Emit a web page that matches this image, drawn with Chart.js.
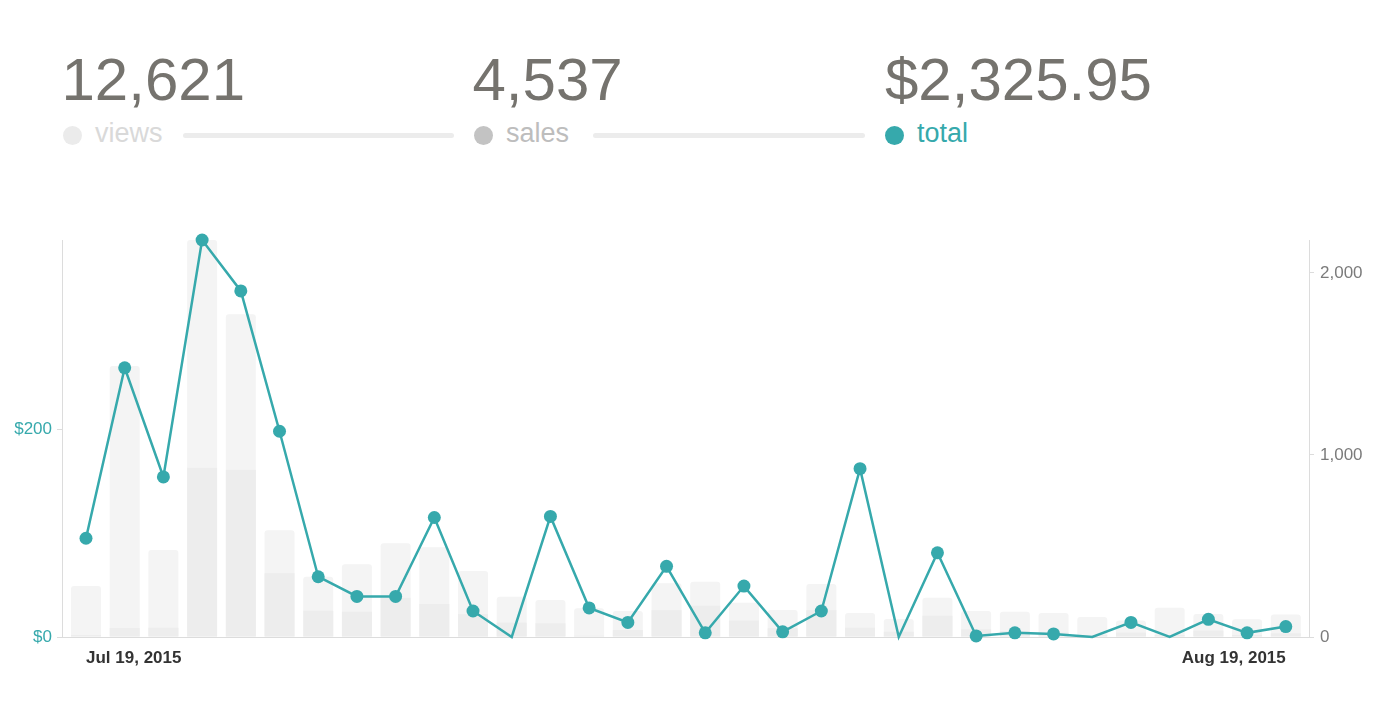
<!DOCTYPE html>
<html>
<head>
<meta charset="utf-8">
<script src="https://cdn.jsdelivr.net/npm/chart.js@4.4.0/dist/chart.umd.min.js"></script>
<style>
    html, body { margin: 0; padding: 0; background: #fff; }
    body {
        width: 1400px; height: 716px; position: relative; overflow: hidden;
        font-family: Arial, "Liberation Sans", Helvetica, sans-serif;
    }
    .stat { position: absolute; top: 0; width: 391px; height: 160px; }
    .stat .num { position: absolute; top: 50px; font-size: 60px; line-height: 60px; color: #75736e; white-space: nowrap; }
    .stat .dot { position: absolute; top: 126px; left: 0; width: 19px; height: 19px; border-radius: 50%; }
    .stat .lbl { position: absolute; top: 118px; left: 32px; font-size: 27px; line-height: 30px; }
    .stat .rule { position: absolute; top: 133px; right: 0; height: 5px; border-radius: 3px; background: #ececec; }
    #chartBox { position: absolute; left: 0; top: 200px; width: 1400px; height: 480px; }
</style>
</head>
<body>
    <div class="stat" style="left:63px">
        <div class="num" style="left:-1.5px">12,621</div>
        <span class="dot" style="background:#ebebeb"></span>
        <span class="lbl" style="color:#d9d9d9">views</span>
        <span class="rule" style="left:120px"></span>
    </div>
    <div class="stat" style="left:474px">
        <div class="num" style="left:-1.5px">4,537</div>
        <span class="dot" style="background:#c3c3c3"></span>
        <span class="lbl" style="color:#bdbdbd">sales</span>
        <span class="rule" style="left:119px"></span>
    </div>
    <div class="stat" style="left:885px">
        <div class="num" style="left:0px">$2,325.95</div>
        <span class="dot" style="background:#36a9ac"></span>
        <span class="lbl" style="color:#36a9ac">total</span>
    </div>

    <div id="chartBox"><canvas id="chart"></canvas></div>

<script>
// daily figures, Jul 19 - Aug 19 2015
const dates = [
    'Jul 19, 2015', 'Jul 20, 2015', 'Jul 21, 2015', 'Jul 22, 2015', 'Jul 23, 2015', 'Jul 24, 2015',
    'Jul 25, 2015', 'Jul 26, 2015', 'Jul 27, 2015', 'Jul 28, 2015', 'Jul 29, 2015', 'Jul 30, 2015',
    'Jul 31, 2015', 'Aug 1, 2015', 'Aug 2, 2015', 'Aug 3, 2015', 'Aug 4, 2015', 'Aug 5, 2015',
    'Aug 6, 2015', 'Aug 7, 2015', 'Aug 8, 2015', 'Aug 9, 2015', 'Aug 10, 2015', 'Aug 11, 2015',
    'Aug 12, 2015', 'Aug 13, 2015', 'Aug 14, 2015', 'Aug 15, 2015', 'Aug 16, 2015', 'Aug 17, 2015',
    'Aug 18, 2015', 'Aug 19, 2015'
];
const views = [280, 1489, 478, 2181, 1773, 586, 331, 400, 515, 493, 363, 221, 203, 158, 143, 295,
               304, 188, 148, 291, 132, 99, 216, 143, 139, 132, 110, 90, 161, 126, 97, 123];
const sales = [11, 49, 51, 930, 919, 350, 144, 139, 216, 181, 126, 79, 75, 7, 38, 148,
               172, 90, 48, 148, 51, 29, 117, 42, 33, 24, 11, 24, 11, 35, 11, 20];
const totals = [95, 259, 154, 382, 333, 198, 58, 39, 39, 115, 25, 0, 116, 28, 14, 68,
                4, 49, 5, 25, 162, 0, 81, 1, 4, 3, 0, 14, 0, 17, 4, 10];
const moneyStep = 200;
const countStep = 1000;

const teal = '#36a9ac';
const axisGrey = '#dcdcdc';
const family = 'Arial, "Liberation Sans", Helvetica, sans-serif';

// round ticks only, from 0 up to the data max (the max itself is not labelled)
const roundTicks = step => s => {
    const ticks = [];
    for (let v = 0; v <= s.max; v += step) ticks.push({ value: v });
    s.ticks = ticks;
};

new Chart(document.getElementById('chart'), {
    type: 'bar',
    data: {
        labels: dates.map((d, i) => i),
        datasets: [
            {
                type: 'line',
                label: 'total',
                data: totals,
                yAxisID: 'y',
                borderColor: teal,
                backgroundColor: teal,
                borderWidth: 2.5,
                pointBackgroundColor: teal,
                pointBorderWidth: 0,
                pointRadius: ctx => (ctx.raw === 0 ? 0 : 6.5),
                tension: 0,
                clip: false,
                order: 0
            },
            {
                label: 'sales',
                data: sales,
                yAxisID: 'y1',
                backgroundColor: '#ededed',
                grouped: false,
                barPercentage: 0.775,
                categoryPercentage: 1,
                order: 1
            },
            {
                label: 'views',
                data: views,
                yAxisID: 'y1',
                backgroundColor: '#f4f4f4',
                borderRadius: 3,
                borderSkipped: 'start',
                grouped: false,
                barPercentage: 0.775,
                categoryPercentage: 1,
                order: 2
            }
        ]
    },
    options: {
        responsive: true,
        maintainAspectRatio: false,
        animation: false,
        layout: { padding: { top: 40 } },
        plugins: {
            legend: { display: false },
            tooltip: { enabled: false }
        },
        scales: {
            x: {
                type: 'linear',
                offset: false,
                min: -0.62,
                max: 31.6,
                grid: { display: false, drawTicks: false, offset: false },
                border: { display: true, color: axisGrey },
                afterBuildTicks: s => { s.ticks = [{ value: 0 }, { value: dates.length - 1 }]; },
                afterFit: s => { s.height = 43; },
                ticks: {
                    autoSkip: false,
                    maxRotation: 0,
                    align: 'inner',
                    padding: 11,
                    color: '#333',
                    font: { size: 17, weight: 'bold', family },
                    callback: v => dates[v]
                }
            },
            y: {
                position: 'left',
                beginAtZero: true,
                bounds: 'data',
                grid: { drawOnChartArea: false, drawTicks: true, tickLength: 5, color: axisGrey },
                border: { color: axisGrey },
                afterBuildTicks: roundTicks(moneyStep),
                afterFit: s => { s.width = 62; },
                ticks: {
                    padding: 5,
                    color: teal,
                    font: { size: 17, family },
                    callback: v => '$' + v
                }
            },
            y1: {
                position: 'right',
                beginAtZero: true,
                bounds: 'data',
                grid: { drawOnChartArea: false, drawTicks: true, tickLength: 5, color: axisGrey },
                border: { color: axisGrey },
                afterBuildTicks: roundTicks(countStep),
                afterFit: s => { s.width = 91; },
                ticks: {
                    padding: 6,
                    color: '#7b7b7b',
                    font: { size: 17, family },
                    callback: v => v.toLocaleString('en-US')
                }
            }
        }
    }
});
</script>
</body>
</html>
